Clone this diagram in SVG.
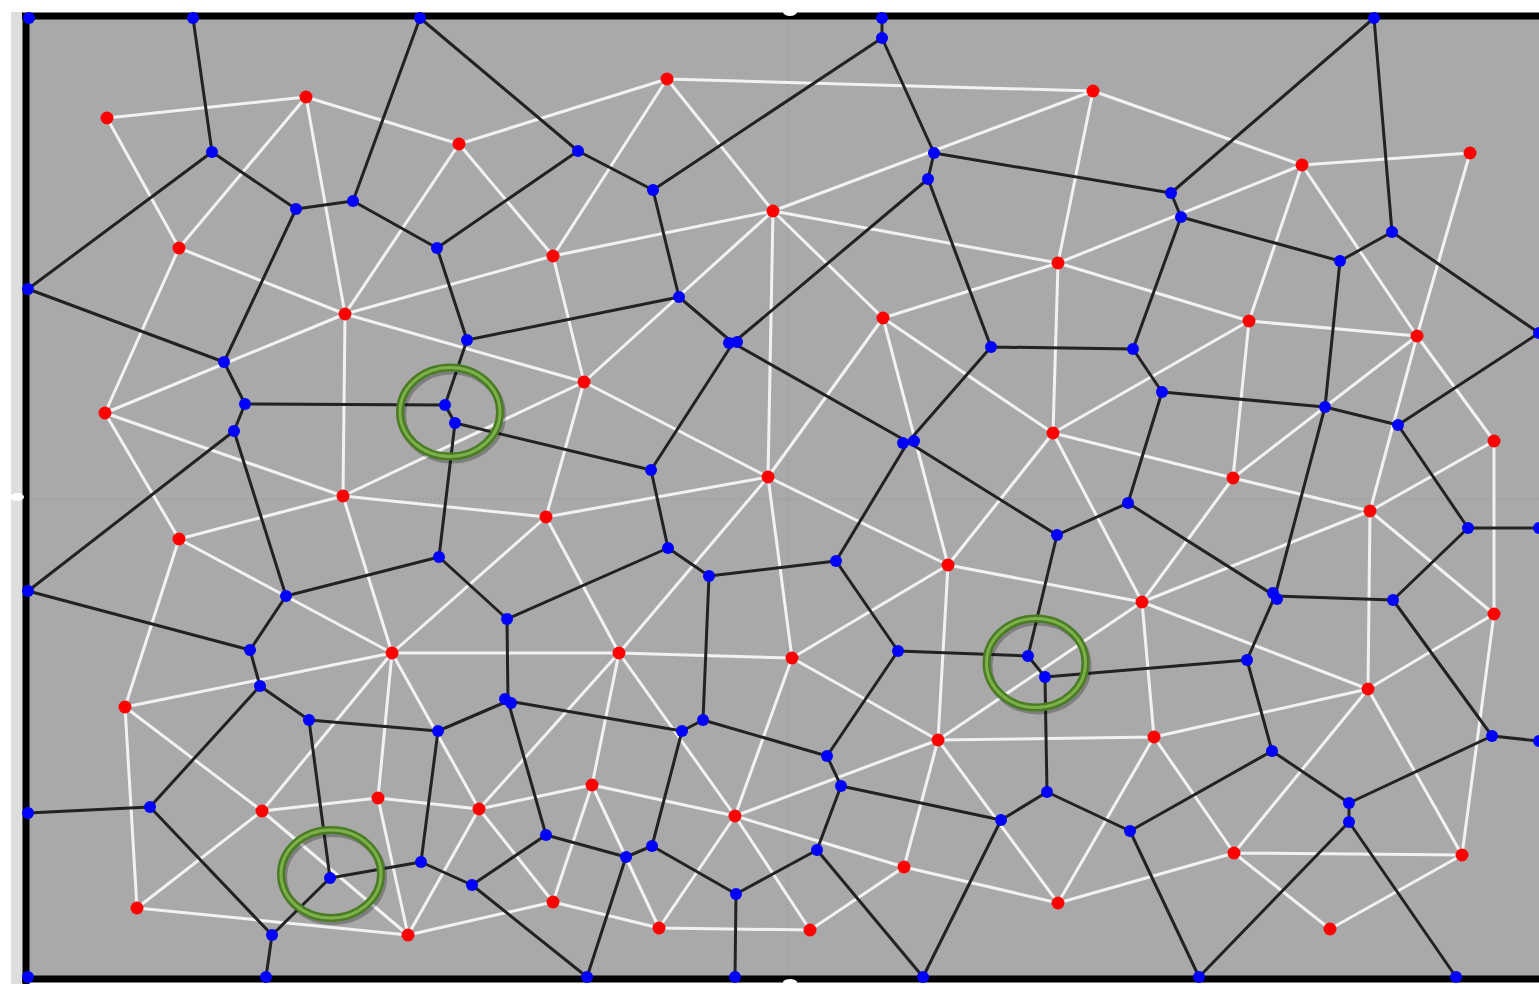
<svg xmlns="http://www.w3.org/2000/svg" width="1539" height="984" viewBox="0 0 1539 984">
<style>
.bg{fill:#a9a9a9}
.frame{stroke:#000;stroke-width:7;fill:none}
.guide{stroke:#999;stroke-width:1;stroke-dasharray:2 2;fill:none}
.del{stroke:#f2f2f2;stroke-width:3;fill:none;stroke-linecap:round}
.vor{stroke:#222;stroke-width:3;fill:none;stroke-linecap:round}
.site{fill:#ff0000}
.vtx{fill:#0000ff}
.ring{fill:none;stroke:#4a7c25;stroke-width:8}
.ringhi{fill:none;stroke:#7eb04a;stroke-width:3}
.shadow{fill:none;stroke:#000;stroke-opacity:0.25;stroke-width:8}
</style>
<rect x="0" y="0" width="1539" height="984" fill="#ffffff"/>
<rect x="11" y="12" width="12" height="972" fill="#dedede"/>
<rect class="bg" x="26" y="16" width="1513" height="963"/>
<g id="guides">
<path class="guide" d="M788 20V976M30 499H1539"/>
</g>
<g id="delaunay-edges">
<path class="del" d="M107 118L306 97M107 118L179 248M306 97L459 144M306 97L179 248M306 97L345 314M459 144L667 79M459 144L345 314M459 144L553 256M179 248L345 314M179 248L105 413M345 314L553 256M667 79L553 256M667 79L773 211M667 79L1093 91M553 256L773 211M773 211L1093 91M773 211L1058 263M773 211L883 318M773 211L768 477M773 211L584 382M553 256L584 382M345 314L584 382M1093 91L1058 263M1093 91L1302 165M1058 263L883 318M1058 263L1302 165M1058 263L1249 321M1058 263L1053 433M1302 165L1470 153M1302 165L1417 336M1302 165L1249 321M1470 153L1417 336M1249 321L1417 336M883 318L1053 433M883 318L768 477M883 318L948 565M584 382L768 477M584 382L546 517M584 382L343 496M345 314L343 496M345 314L105 413M105 413L343 496M105 413L179 539M343 496L179 539M343 496L546 517M343 496L392 653M179 539L392 653M179 539L125 707M546 517L768 477M546 517L392 653M546 517L619 653M768 477L619 653M768 477L792 658M768 477L948 565M1053 433L948 565M1053 433L1233 478M1053 433L1142 602M1053 433L1249 321M1249 321L1233 478M1417 336L1233 478M1417 336L1370 511M1417 336L1494 441M1494 441L1370 511M1494 441L1494 614M1233 478L1370 511M1233 478L1142 602M1370 511L1142 602M1370 511L1368 689M1370 511L1494 614M1494 614L1368 689M1494 614L1462 855M1142 602L948 565M1142 602L938 740M1142 602L1154 737M1142 602L1368 689M1368 689L1154 737M1368 689L1234 853M1368 689L1462 855M1154 737L1234 853M1234 853L1462 855M1234 853L1330 929M1462 855L1330 929M1234 853L1058 903M1154 737L1058 903M1154 737L938 740M938 740L948 565M938 740L792 658M938 740L1058 903M938 740L904 867M938 740L735 816M948 565L792 658M792 658L619 653M792 658L735 816M735 816L904 867M904 867L810 930M904 867L1058 903M810 930L735 816M810 930L659 928M735 816L659 928M735 816L592 785M735 816L619 653M592 785L619 653M592 785L479 809M592 785L553 902M592 785L659 928M553 902L659 928M553 902L479 809M553 902L408 935M479 809L619 653M479 809L392 653M479 809L378 798M479 809L408 935M392 653L619 653M392 653L378 798M392 653L262 811M392 653L125 707M125 707L262 811M125 707L137 908M262 811L137 908M262 811L378 798M262 811L408 935M137 908L408 935M378 798L408 935"/>
</g>
<g id="voronoi-edges">
<path class="vor" d="M193 18L212 152M212 152L28 289M212 152L296 209M296 209L353 201M353 201L420 18M353 201L437 248M420 18L578 151M578 151L437 248M578 151L653 190M653 190L882 38M882 38L882 18M653 190L679 297M882 38L934 153M934 153L928 179M934 153L1171 193M928 179L733 343M928 179L991 347M1171 193L1374 18M1171 193L1181 217M1374 18L1392 232M1392 232L1340 261M1340 261L1181 217M1392 232L1539 333M1181 217L1133 349M1340 261L1325 407M296 209L224 362M28 289L224 362M224 362L245 404M245 404L234 431M245 404L445 405M437 248L467 340M467 340L679 297M467 340L445 405M445 405L455 423M455 423L651 470M455 423L439 557M679 297L733 343M733 343L651 470M733 343L908 442M991 347L1133 349M991 347L908 442M1133 349L1162 392M1162 392L1325 407M1162 392L1128 503M1325 407L1398 425M1325 407L1275 596M1398 425L1539 333M1398 425L1468 528M1468 528L1539 528M1468 528L1393 600M1393 600L1275 596M1393 600L1492 736M1492 736L1539 741M1492 736L1349 803M1349 803L1349 822M1349 803L1272 751M1272 751L1247 660M1272 751L1130 831M1349 822L1199 977M1349 822L1456 977M1130 831L1199 977M1247 660L1045 677M1247 660L1275 596M1275 596L1128 503M1128 503L1057 535M1057 535L908 442M1057 535L1028 656M908 442L836 561M836 561L709 576M836 561L898 651M898 651L1028 656M1028 656L1045 677M1045 677L1047 792M1047 792L1001 820M1047 792L1130 831M1001 820L841 786M1001 820L923 977M898 651L827 756M827 756L841 786M703 720L827 756M841 786L817 850M817 850L923 977M817 850L736 894M709 576L668 548M709 576L703 720M668 548L651 470M668 548L507 619M439 557L507 619M439 557L286 596M507 619L508 701M508 701L438 731M508 701L682 731M508 701L546 835M682 731L703 720M682 731L652 846M652 846L626 857M546 835L626 857M546 835L472 885M626 857L587 977M652 846L736 894M736 894L735 977M472 885L421 862M472 885L587 977M421 862L438 731M421 862L330 878M438 731L309 720M309 720L260 686M309 720L330 878M330 878L272 935M272 935L266 977M272 935L150 807M150 807L28 813M150 807L260 686M260 686L250 650M250 650L286 596M250 650L28 591M286 596L234 431M234 431L28 591"/>
</g>
<g id="frame">
<path class="frame" d="M22 16H1539M26 13V984M22 979H1539"/>
<ellipse cx="790" cy="12" rx="7" ry="4" fill="#ffffff"/>
<ellipse cx="17" cy="497" rx="7" ry="4" fill="#ffffff"/>
<ellipse cx="790" cy="982" rx="7" ry="3" fill="#ffffff"/>
</g>
<g id="sites">
<circle class="site" cx="107" cy="118" r="6.5"/><circle class="site" cx="306" cy="97" r="6.5"/><circle class="site" cx="459" cy="144" r="6.5"/><circle class="site" cx="667" cy="79" r="6.5"/><circle class="site" cx="1093" cy="91" r="6.5"/><circle class="site" cx="1302" cy="165" r="6.5"/><circle class="site" cx="1470" cy="153" r="6.5"/><circle class="site" cx="179" cy="248" r="6.5"/><circle class="site" cx="553" cy="256" r="6.5"/><circle class="site" cx="773" cy="211" r="6.5"/><circle class="site" cx="1058" cy="263" r="6.5"/><circle class="site" cx="345" cy="314" r="6.5"/><circle class="site" cx="883" cy="318" r="6.5"/><circle class="site" cx="1249" cy="321" r="6.5"/><circle class="site" cx="1417" cy="336" r="6.5"/><circle class="site" cx="105" cy="413" r="6.5"/><circle class="site" cx="584" cy="382" r="6.5"/><circle class="site" cx="1053" cy="433" r="6.5"/><circle class="site" cx="1494" cy="441" r="6.5"/><circle class="site" cx="343" cy="496" r="6.5"/><circle class="site" cx="768" cy="477" r="6.5"/><circle class="site" cx="1233" cy="478" r="6.5"/><circle class="site" cx="546" cy="517" r="6.5"/><circle class="site" cx="179" cy="539" r="6.5"/><circle class="site" cx="1370" cy="511" r="6.5"/><circle class="site" cx="948" cy="565" r="6.5"/><circle class="site" cx="1142" cy="602" r="6.5"/><circle class="site" cx="1494" cy="614" r="6.5"/><circle class="site" cx="392" cy="653" r="6.5"/><circle class="site" cx="619" cy="653" r="6.5"/><circle class="site" cx="792" cy="658" r="6.5"/><circle class="site" cx="1368" cy="689" r="6.5"/><circle class="site" cx="125" cy="707" r="6.5"/><circle class="site" cx="938" cy="740" r="6.5"/><circle class="site" cx="1154" cy="737" r="6.5"/><circle class="site" cx="262" cy="811" r="6.5"/><circle class="site" cx="378" cy="798" r="6.5"/><circle class="site" cx="479" cy="809" r="6.5"/><circle class="site" cx="592" cy="785" r="6.5"/><circle class="site" cx="735" cy="816" r="6.5"/><circle class="site" cx="904" cy="867" r="6.5"/><circle class="site" cx="1234" cy="853" r="6.5"/><circle class="site" cx="1462" cy="855" r="6.5"/><circle class="site" cx="137" cy="908" r="6.5"/><circle class="site" cx="408" cy="935" r="6.5"/><circle class="site" cx="553" cy="902" r="6.5"/><circle class="site" cx="659" cy="928" r="6.5"/><circle class="site" cx="810" cy="930" r="6.5"/><circle class="site" cx="1058" cy="903" r="6.5"/><circle class="site" cx="1330" cy="929" r="6.5"/>
</g>
<g id="vertices">
<circle class="vtx" cx="29" cy="18" r="6"/><circle class="vtx" cx="193" cy="18" r="6"/><circle class="vtx" cx="420" cy="18" r="6"/><circle class="vtx" cx="882" cy="18" r="6"/><circle class="vtx" cx="882" cy="38" r="6"/><circle class="vtx" cx="1374" cy="18" r="6"/><circle class="vtx" cx="212" cy="152" r="6"/><circle class="vtx" cx="296" cy="209" r="6"/><circle class="vtx" cx="353" cy="201" r="6"/><circle class="vtx" cx="437" cy="248" r="6"/><circle class="vtx" cx="578" cy="151" r="6"/><circle class="vtx" cx="653" cy="190" r="6"/><circle class="vtx" cx="934" cy="153" r="6"/><circle class="vtx" cx="928" cy="179" r="6"/><circle class="vtx" cx="1171" cy="193" r="6"/><circle class="vtx" cx="1181" cy="217" r="6"/><circle class="vtx" cx="1340" cy="261" r="6"/><circle class="vtx" cx="1392" cy="232" r="6"/><circle class="vtx" cx="28" cy="289" r="6"/><circle class="vtx" cx="679" cy="297" r="6"/><circle class="vtx" cx="729" cy="343" r="6"/><circle class="vtx" cx="737" cy="342" r="6"/><circle class="vtx" cx="467" cy="340" r="6"/><circle class="vtx" cx="991" cy="347" r="6"/><circle class="vtx" cx="1133" cy="349" r="6"/><circle class="vtx" cx="224" cy="362" r="6"/><circle class="vtx" cx="1162" cy="392" r="6"/><circle class="vtx" cx="1325" cy="407" r="6"/><circle class="vtx" cx="1398" cy="425" r="6"/><circle class="vtx" cx="1539" cy="333" r="6"/><circle class="vtx" cx="245" cy="404" r="6"/><circle class="vtx" cx="234" cy="431" r="6"/><circle class="vtx" cx="445" cy="405" r="6"/><circle class="vtx" cx="455" cy="423" r="6"/><circle class="vtx" cx="651" cy="470" r="6"/><circle class="vtx" cx="903" cy="443" r="6"/><circle class="vtx" cx="914" cy="441" r="6"/><circle class="vtx" cx="1128" cy="503" r="6"/><circle class="vtx" cx="1057" cy="535" r="6"/><circle class="vtx" cx="1468" cy="528" r="6"/><circle class="vtx" cx="1539" cy="528" r="6"/><circle class="vtx" cx="439" cy="557" r="6"/><circle class="vtx" cx="668" cy="548" r="6"/><circle class="vtx" cx="709" cy="576" r="6"/><circle class="vtx" cx="836" cy="561" r="6"/><circle class="vtx" cx="28" cy="591" r="6"/><circle class="vtx" cx="286" cy="596" r="6"/><circle class="vtx" cx="1273" cy="593" r="6"/><circle class="vtx" cx="1277" cy="599" r="6"/><circle class="vtx" cx="1393" cy="600" r="6"/><circle class="vtx" cx="507" cy="619" r="6"/><circle class="vtx" cx="250" cy="650" r="6"/><circle class="vtx" cx="898" cy="651" r="6"/><circle class="vtx" cx="1028" cy="656" r="6"/><circle class="vtx" cx="1045" cy="677" r="6"/><circle class="vtx" cx="1247" cy="660" r="6"/><circle class="vtx" cx="260" cy="686" r="6"/><circle class="vtx" cx="505" cy="699" r="6"/><circle class="vtx" cx="511" cy="703" r="6"/><circle class="vtx" cx="309" cy="720" r="6"/><circle class="vtx" cx="438" cy="731" r="6"/><circle class="vtx" cx="682" cy="731" r="6"/><circle class="vtx" cx="703" cy="720" r="6"/><circle class="vtx" cx="827" cy="756" r="6"/><circle class="vtx" cx="1492" cy="736" r="6"/><circle class="vtx" cx="1539" cy="741" r="6"/><circle class="vtx" cx="1272" cy="751" r="6"/><circle class="vtx" cx="841" cy="786" r="6"/><circle class="vtx" cx="1047" cy="792" r="6"/><circle class="vtx" cx="1349" cy="803" r="6"/><circle class="vtx" cx="1349" cy="822" r="6"/><circle class="vtx" cx="28" cy="813" r="6"/><circle class="vtx" cx="150" cy="807" r="6"/><circle class="vtx" cx="1001" cy="820" r="6"/><circle class="vtx" cx="1130" cy="831" r="6"/><circle class="vtx" cx="546" cy="835" r="6"/><circle class="vtx" cx="817" cy="850" r="6"/><circle class="vtx" cx="652" cy="846" r="6"/><circle class="vtx" cx="626" cy="857" r="6"/><circle class="vtx" cx="421" cy="862" r="6"/><circle class="vtx" cx="472" cy="885" r="6"/><circle class="vtx" cx="330" cy="878" r="6"/><circle class="vtx" cx="736" cy="894" r="6"/><circle class="vtx" cx="272" cy="935" r="6"/><circle class="vtx" cx="28" cy="977" r="6"/><circle class="vtx" cx="266" cy="977" r="6"/><circle class="vtx" cx="587" cy="977" r="6"/><circle class="vtx" cx="735" cy="977" r="6"/><circle class="vtx" cx="923" cy="977" r="6"/><circle class="vtx" cx="1199" cy="977" r="6"/><circle class="vtx" cx="1456" cy="977" r="6"/>
</g>
<g id="highlight-1">
<ellipse class="shadow" cx="452" cy="415" rx="50" ry="44.5"/>
<ellipse class="ring" cx="450" cy="412" rx="50" ry="44.5"/>
<ellipse class="ringhi" cx="450" cy="412" rx="50" ry="44.5"/>
</g>
<g id="highlight-2">
<ellipse class="shadow" cx="1038" cy="666" rx="49.5" ry="44.5"/>
<ellipse class="ring" cx="1036" cy="663" rx="49.5" ry="44.5"/>
<ellipse class="ringhi" cx="1036" cy="663" rx="49.5" ry="44.5"/>
</g>
<g id="highlight-3">
<ellipse class="shadow" cx="333" cy="877" rx="50" ry="44"/>
<ellipse class="ring" cx="331" cy="874" rx="50" ry="44"/>
<ellipse class="ringhi" cx="331" cy="874" rx="50" ry="44"/>
</g>
</svg>
